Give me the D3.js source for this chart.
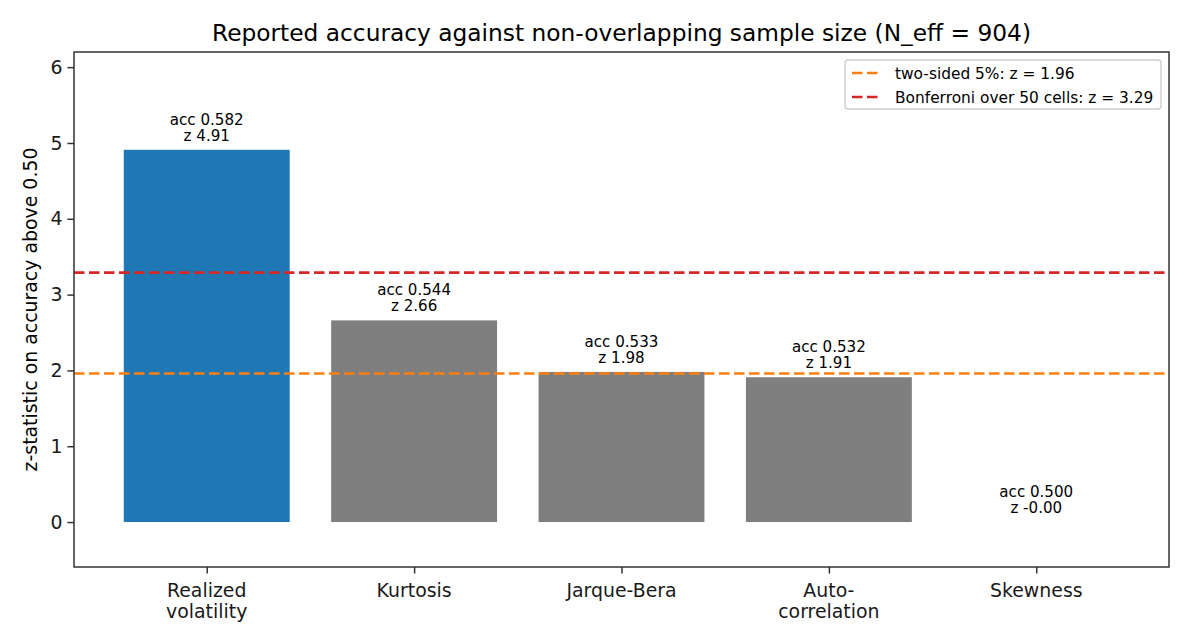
<!DOCTYPE html>
<html>
<head>
<meta charset="utf-8">
<script src="https://cdn.jsdelivr.net/npm/d3@7"></script>
<style>
  body { margin: 0; background: #fff; }
  svg { font-family: 'DejaVu Sans', sans-serif; }
</style>
</head>
<body>
<svg width="1190" height="644"></svg>
<script>
// Chart data
const categories = ['Realized\nvolatility', 'Kurtosis', 'Jarque-Bera', 'Auto-\ncorrelation', 'Skewness'];
const zValues = [4.91, 2.66, 1.98, 1.91, -0.00];
const accValues = ['0.582', '0.544', '0.533', '0.532', '0.500'];
const zLabels = ['4.91', '2.66', '1.98', '1.91', '-0.00'];
const barColors = ['#1f77b4', '#7f7f7f', '#7f7f7f', '#7f7f7f', '#7f7f7f'];
const yTicks = [0, 1, 2, 3, 4, 5, 6];
const thresholds = [
  { label: 'two-sided 5%: z = 1.96', value: 1.96, color: '#ff7f0e' },
  { label: 'Bonferroni over 50 cells: z = 3.29', value: 3.29, color: '#d62728' }
];

const svg = d3.select('svg');
const margin = { top: 52, right: 21, bottom: 77, left: 74 };
const width = 1190 - margin.left - margin.right;
const height = 644 - margin.top - margin.bottom;

const g = svg.append('g')
  .attr('transform', 'translate(' + margin.left + ',' + margin.top + ')');

const x = d3.scaleLinear().domain([-0.64, 4.64]).range([0, width]);
const y = d3.scaleLinear().domain([-0.593, 6.2]).range([height, 0]);
const barWidth = 0.8;
const dash = '10.5,4.5';

// Bars
g.selectAll('.bar')
  .data(zValues)
  .enter()
  .append('rect')
  .attr('class', 'bar')
  .attr('x', (d, i) => x(i - barWidth / 2))
  .attr('width', x(barWidth) - x(0))
  .attr('y', (d) => y(Math.max(d, 0)))
  .attr('height', (d) => Math.abs(y(d) - y(0)))
  .attr('fill', (d, i) => barColors[i]);

// Threshold lines
g.selectAll('.thresh')
  .data(thresholds)
  .enter()
  .append('line')
  .attr('class', 'thresh')
  .attr('x1', 0)
  .attr('x2', width)
  .attr('y1', (d) => y(d.value))
  .attr('y2', (d) => y(d.value))
  .attr('stroke', (d) => d.color)
  .attr('stroke-width', 2.6)
  .attr('stroke-dasharray', dash);

// Bar annotations
const ann = g.selectAll('.ann')
  .data(zValues)
  .enter()
  .append('text')
  .attr('class', 'ann')
  .attr('text-anchor', 'middle')
  .attr('font-size', '15.1px')
  .attr('fill', '#000');

ann.append('tspan')
  .attr('x', (d, i) => x(i))
  .attr('y', (d) => y(Math.max(d, 0)) - 25)
  .text((d, i) => 'acc ' + accValues[i]);
ann.append('tspan')
  .attr('x', (d, i) => x(i))
  .attr('y', (d) => y(Math.max(d, 0)) - 9)
  .text((d, i) => 'z ' + zLabels[i]);

// Axes
const yAxis = g.append('g')
  .attr('class', 'axis axis-y')
  .call(d3.axisLeft(y).tickValues(yTicks).tickFormat(d3.format('d')).tickSize(6.6).tickPadding(5));

const xAxis = g.append('g')
  .attr('class', 'axis axis-x')
  .attr('transform', 'translate(0,' + height + ')')
  .call(d3.axisBottom(x).tickValues(d3.range(categories.length)).tickSize(6.6).tickFormat(''));

svg.selectAll('.axis .domain').remove();
svg.selectAll('.axis line').attr('stroke', '#333').attr('stroke-width', 1.5);
yAxis.selectAll('text').attr('font-size', '18.9px').attr('fill', '#1a1a1a').attr('font-family', 'DejaVu Sans');

// Multi-line x labels
categories.forEach((c, i) => {
  const t = g.append('text')
    .attr('text-anchor', 'middle')
    .attr('font-size', '18.9px')
    .attr('fill', '#1a1a1a');
  c.split('\n').forEach((line, j) => {
    t.append('tspan')
      .attr('x', x(i))
      .attr('y', 597 - margin.top + j * 21)
      .text(line);
  });
});

// Frame
g.append('rect')
  .attr('width', width)
  .attr('height', height)
  .attr('fill', 'none')
  .attr('stroke', '#333')
  .attr('stroke-width', 1.5);

// Title
svg.append('text')
  .attr('x', margin.left + width / 2)
  .attr('y', 41)
  .attr('text-anchor', 'middle')
  .attr('font-size', '23.3px')
  .attr('fill', '#000')
  .text('Reported accuracy against non-overlapping sample size (N_eff = 904)');

// Y label
svg.append('text')
  .attr('transform', 'translate(37,' + (margin.top + height / 2) + ') rotate(-90)')
  .attr('text-anchor', 'middle')
  .attr('font-size', '18.9px')
  .attr('fill', '#000')
  .text('z-statistic on accuracy above 0.50');

// Legend
const legend = g.append('g').attr('transform', 'translate(' + (width - 324) + ',8)');
legend.append('rect')
  .attr('width', 316)
  .attr('height', 49)
  .attr('rx', 3)
  .attr('fill', '#fff')
  .attr('fill-opacity', 0.8)
  .attr('stroke', '#d0d0d0')
  .attr('stroke-width', 1.5);
thresholds.forEach((d, i) => {
  const ly = 13 + i * 24;
  legend.append('line')
    .attr('x1', 7).attr('x2', 35)
    .attr('y1', ly).attr('y2', ly)
    .attr('stroke', d.color)
    .attr('stroke-width', 2.6)
    .attr('stroke-dasharray', dash);
  legend.append('text')
    .attr('x', 50)
    .attr('y', ly + 5.5)
    .attr('font-size', '15.4px')
    .attr('fill', '#000')
    .text(d.label);
});
</script>
</body>
</html>
